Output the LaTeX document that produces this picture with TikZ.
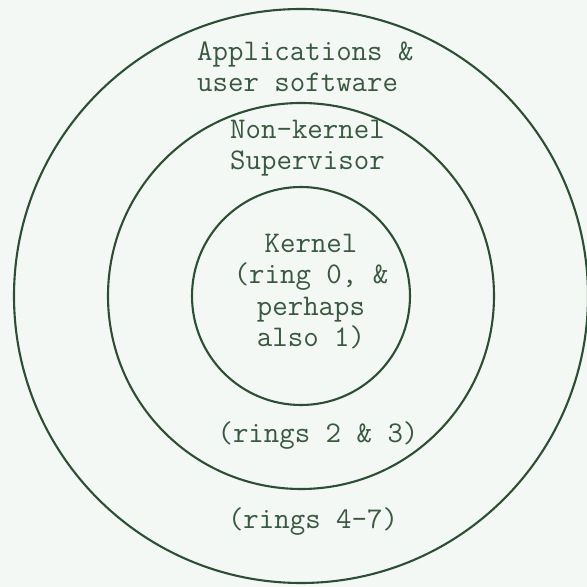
\documentclass[tikz,border=0pt]{standalone}
\definecolor{paper}{RGB}{244,248,245}
\definecolor{ink}{RGB}{44,78,50}
\definecolor{type}{RGB}{58,88,64}
\tikzset{
  ringline/.style={draw=ink,line width=2.1pt},
  typed/.style={text=type,inner sep=0pt,font=\fontsize{30}{31.5}\selectfont\ttfamily}
}
\begin{document}
\begin{tikzpicture}[x=1pt,y=1pt]
	% Page and the common centre
	\useasboundingbox (0,0) rectangle (587,587);
	\fill [paper] (0,0) rectangle (587,587);
	\coordinate (c) at (301,291);

	% Draw the three rings
	\draw [ringline] (c) circle (287pt);
	\draw [ringline] (c) circle (193pt);
	\draw [ringline] (c) circle (109pt);

	% Then add the ring labels
	\node (apps) at (197,549) [typed,anchor=north west,align=left] {\strut Applications \&\\user software};
	\node (super) at (230,471) [typed,anchor=north west,align=left] {\strut Non-kernel\\Supervisor};
	\node (kernel) at (311,357) [typed,anchor=north,align=center] {\strut Kernel\\(ring 0, \&\\perhaps\\also 1)};

	% Now add the ring numbers
	\node (ring23) at (318,144) [typed,anchor=base] {(rings 2 \& 3)};
	\node (ring47) at (313,58) [typed,anchor=base] {(rings 4-7)};
\end{tikzpicture}
\end{document}
